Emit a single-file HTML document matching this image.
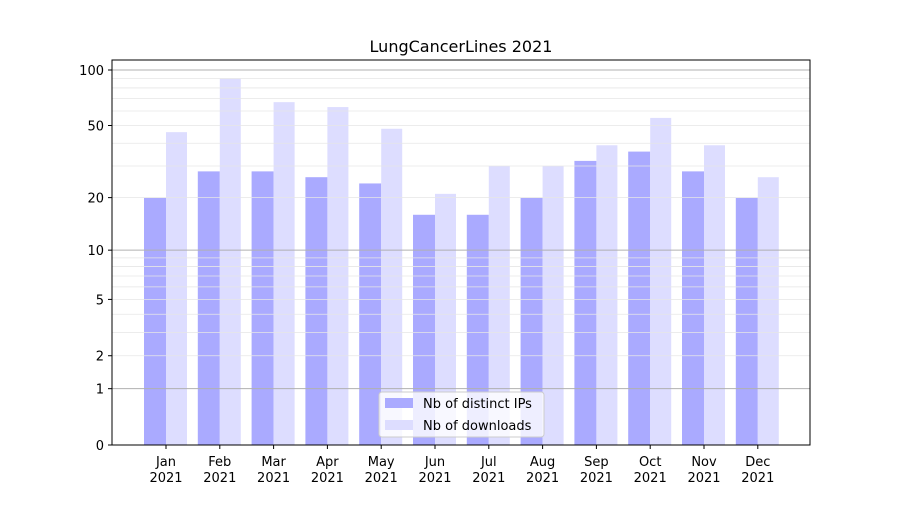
<!DOCTYPE html>
<html><head><meta charset="utf-8"><style>
body{margin:0;background:#fff;font-family:"Liberation Sans","DejaVu Sans",sans-serif}
svg text{font-family:"DejaVu Sans","Liberation Sans",sans-serif}
</style></head><body>
<svg id="c" width="900" height="500" xmlns="http://www.w3.org/2000/svg">
<rect width="900" height="500" fill="#fff"/>
<text x="461" y="52" text-anchor="middle" font-size="16">LungCancerLines 2021</text>
<g id="bars"></g><g id="grid"></g><g id="axes"></g>
</svg>
<script>
const months=["Jan","Feb","Mar","Apr","May","Jun","Jul","Aug","Sep","Oct","Nov","Dec"];
const ips=[20,28,28,26,24,16,16,20,32,36,28,20];
const downloads=[46,90,67,63,48,21,30,30,39,55,39,26];
const yTicks=[0,1,2,5,10,20,50,100];
const NS="http://www.w3.org/2000/svg";
const X0=112,X1=810,Y0=445,Y1=60,K=187.1;
function y(v){return Y0-K*Math.log10(1+v);}
function xc(i){return 166+i*53.8;}
function mk(t,a,p){const e=document.createElementNS(NS,t);for(const k in a)e.setAttribute(k,a[k]);(p||document.getElementById('c')).appendChild(e);return e;}
const bars=document.getElementById('bars'),grid=document.getElementById('grid'),axes=document.getElementById('axes');
months.forEach((m,i)=>{
 const b1=mk('rect',{x:xc(i)-22,y:y(ips[i]),width:22,height:Y0-y(ips[i]),fill:'#aaaaff'},bars);
 
 
 const b2=mk('rect',{x:xc(i),y:y(downloads[i]),width:21,height:Y0-y(downloads[i]),fill:'#ddddff'},bars);
 
 
 mk('line',{x1:xc(i),x2:xc(i),y1:Y0,y2:Y0+4,stroke:'#000'},axes);
 const t=mk('text',{x:xc(i),y:466,'text-anchor':'middle','font-size':13},axes);
 
 
 t.innerHTML='<tspan x="'+xc(i)+'">'+m+'</tspan><tspan x="'+xc(i)+'" dy="16">2021</tspan>';
});
// grid
for(let d=1;d<=100;d*=10){for(let j=1;j<10;j++){const v=d*j;if(v>110)break;
 const major=(j===1);
 mk('line',{x1:X0,x2:X1,y1:y(v),y2:y(v),stroke:major?'#b0b0b0':'#e6e6e6','stroke-width':major?1:0.8},grid);}}
yTicks.forEach(v=>{
 mk('line',{x1:X0-4,x2:X0,y1:y(v),y2:y(v),stroke:'#000'},axes);
 const t=mk('text',{x:X0-8,y:y(v)+5,'text-anchor':'end','font-size':13},axes);
 
 
 t.textContent=v;
});
const fr=mk('rect',{x:X0,y:Y1,width:X1-X0,height:Y0-Y1,fill:'none',stroke:'#000'},axes);


const lg=mk('g',{},axes);


mk('rect',{x:379,y:392,width:165,height:45,fill:'#fff','fill-opacity':0.8,stroke:'#ccc',rx:3},lg);
mk('rect',{x:385,y:398,width:28,height:10,fill:'#aaaaff'},lg);
mk('rect',{x:385,y:420,width:28,height:10,fill:'#ddddff'},lg);
const l1=mk('text',{x:423,y:408,'font-size':13},lg);l1.textContent='Nb of distinct IPs';


const l2=mk('text',{x:423,y:430,'font-size':13},lg);l2.textContent='Nb of downloads';


</script>
</body></html>
